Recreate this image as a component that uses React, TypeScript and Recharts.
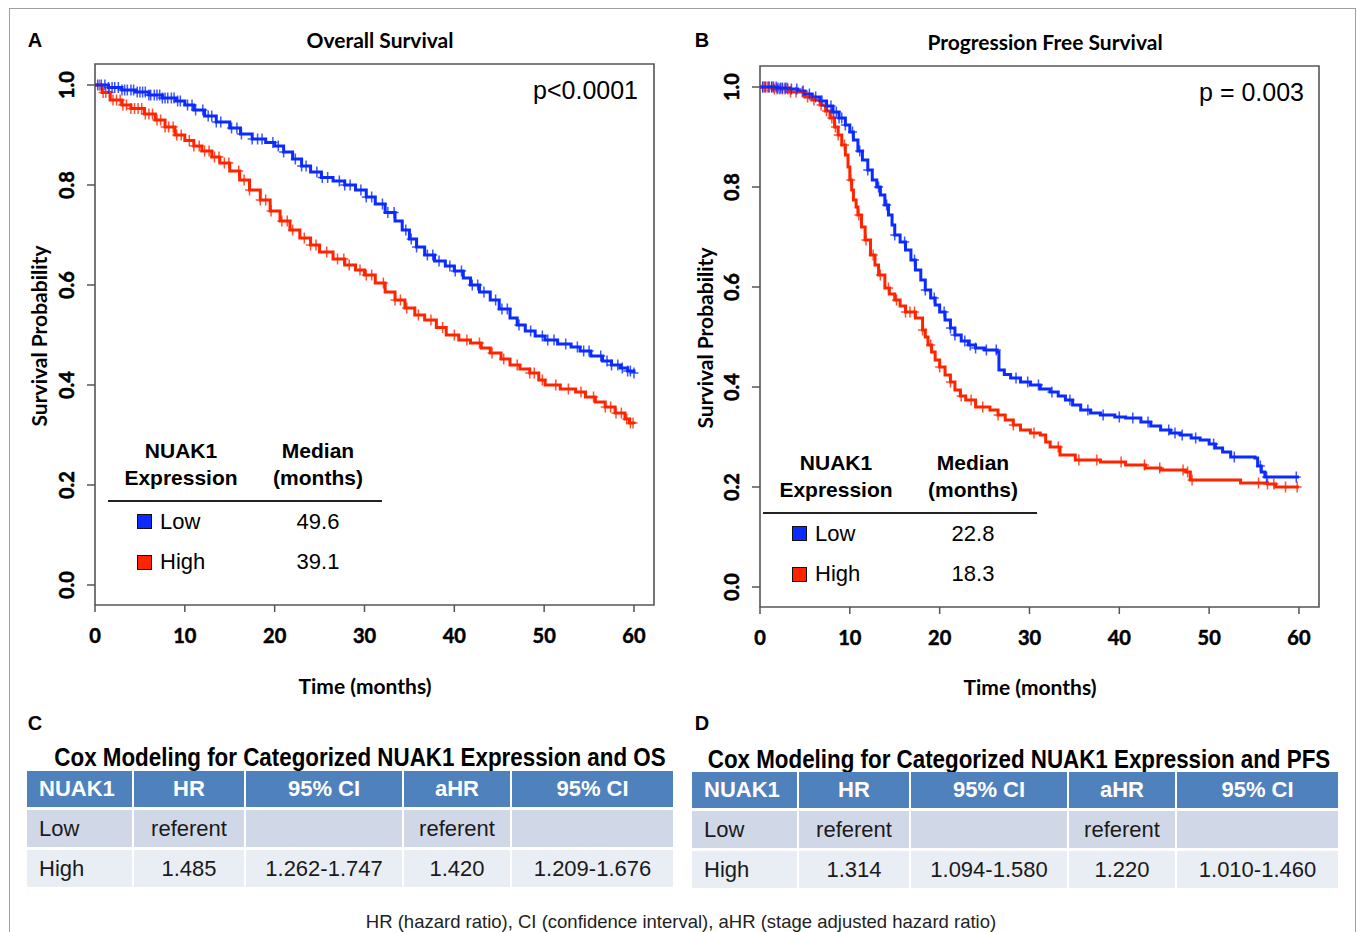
import React from 'react';
import { ComposedChart, Line, XAxis, YAxis, ReferenceArea } from 'recharts';

// Overall survival, NUAK1 low
const osLowTime = [0, 1.5, 3, 4.5, 6, 7.5, 9, 10, 11, 12.2, 13.5, 15, 16.2, 17.5, 19, 20, 21, 22, 23, 24, 25.2, 26.5, 27.8, 29, 30.2, 31.2, 32.3, 33.4, 34.2, 35, 35.8, 36.7, 37.8, 39, 40, 41, 41.8, 42.8, 44, 45, 46.2, 47, 47.9, 49, 50.1, 51.5, 53, 54, 55.2, 56.5, 57.5, 58.5, 59.3, 60];
const osLowSurv = [1, 0.995, 0.99, 0.986, 0.98, 0.974, 0.968, 0.96, 0.95, 0.938, 0.926, 0.914, 0.902, 0.892, 0.885, 0.878, 0.866, 0.852, 0.838, 0.826, 0.815, 0.808, 0.8, 0.79, 0.776, 0.762, 0.745, 0.728, 0.71, 0.692, 0.676, 0.66, 0.648, 0.638, 0.628, 0.614, 0.6, 0.586, 0.57, 0.552, 0.534, 0.52, 0.508, 0.498, 0.49, 0.482, 0.476, 0.468, 0.458, 0.448, 0.44, 0.434, 0.428, 0.424];
const osLowCensor = [0.3, 0.7, 1.1, 1.5, 1.9, 2.2, 2.6, 3, 3.3, 3.6, 4, 4.3, 4.7, 5, 5.3, 5.6, 6, 6.2, 6.6, 6.9, 7.2, 7.5, 7.8, 8.1, 8.5, 8.8, 9.2, 9.5, 10.3, 10.8, 11.2, 12, 12.6, 13, 13.5, 14, 15.2, 15.8, 16.3, 17.5, 18.1, 18.6, 19.8, 20.4, 21, 22.3, 23, 23.5, 24.7, 25.3, 25.9, 27.2, 27.8, 28.4, 29.6, 30.2, 30.8, 32, 32.6, 33.3, 34.6, 35.2, 35.8, 37, 37.6, 38.3, 39.5, 40.1, 40.8, 42, 42.6, 43.3, 44.6, 45.3, 45.9, 47.2, 48.5, 49.8, 50.4, 51.1, 52.4, 53.7, 54.4, 55, 56.3, 57, 57.5, 58.2, 58.7, 59.3, 59.6, 60];

// Overall survival, NUAK1 high
const osHighTime = [0, 0.8, 1.7, 3, 4, 5.5, 6.7, 7.8, 8.9, 10, 11, 11.9, 13, 13.9, 15, 16.1, 17.2, 18.4, 19.5, 20.6, 21.7, 22.8, 24, 25, 26.5, 27.8, 29, 30, 31.2, 32.3, 33.4, 34.5, 35.6, 36.7, 38, 39.1, 40.5, 41.8, 43, 44, 45.2, 46.2, 47.3, 48.4, 49.4, 50.1, 51.8, 53.5, 54.6, 55.7, 56.8, 57.9, 59, 59.5, 60];
const osHighSurv = [1, 0.985, 0.97, 0.96, 0.953, 0.942, 0.93, 0.916, 0.9, 0.889, 0.878, 0.868, 0.856, 0.844, 0.828, 0.81, 0.79, 0.77, 0.748, 0.728, 0.71, 0.694, 0.68, 0.666, 0.652, 0.64, 0.63, 0.62, 0.604, 0.586, 0.57, 0.554, 0.54, 0.53, 0.515, 0.5, 0.49, 0.484, 0.474, 0.464, 0.452, 0.44, 0.432, 0.424, 0.41, 0.4, 0.392, 0.386, 0.376, 0.366, 0.356, 0.344, 0.332, 0.324, 0.322];
const osHighCensor = [0.5, 0.9, 1.2, 1.6, 2, 2.4, 2.8, 3.1, 3.5, 4, 4.4, 4.8, 5.2, 5.6, 6, 6.4, 6.9, 7.3, 7.8, 8.2, 8.7, 9.1, 9.6, 10.5, 11, 11.6, 12.2, 12.7, 13.3, 13.8, 14.4, 14.9, 16, 16.6, 17.2, 18.4, 19, 19.6, 20.8, 21.4, 22, 23.3, 24, 24.6, 25.8, 27, 27.7, 28.3, 29.5, 30.2, 30.8, 32.1, 33.4, 34, 34.7, 36, 37.4, 38.7, 40, 41.4, 42.8, 44.2, 45.5, 47, 48.4, 48.9, 49.8, 51.3, 52.7, 54.1, 55.5, 56.8, 57.4, 58, 58.6, 59.2, 59.6, 59.9];

// Progression free survival, NUAK1 low
const pfsLowTime = [0, 2, 3.3, 4.2, 5, 5.8, 6.7, 7.4, 8.1, 8.8, 9.5, 10, 10.4, 10.9, 11.4, 12, 12.5, 13, 13.4, 13.9, 14.3, 14.7, 15, 15.6, 16.2, 16.8, 17.3, 17.9, 18.4, 19, 19.5, 20, 20.6, 21.2, 21.7, 22.4, 23.2, 24, 25, 26.4, 26.6, 27.2, 27.9, 29, 30.1, 31.2, 32.3, 33.2, 34, 34.8, 35.7, 36.8, 37.9, 39.5, 40.7, 42.4, 43.5, 44.6, 45.7, 46.8, 48, 49, 50, 50.7, 51.5, 52.4, 55.1, 55.4, 55.8, 56.2, 60];
const pfsLowSurv = [1, 0.998, 0.996, 0.992, 0.986, 0.98, 0.972, 0.962, 0.95, 0.938, 0.924, 0.91, 0.894, 0.872, 0.854, 0.834, 0.814, 0.8, 0.784, 0.764, 0.744, 0.724, 0.704, 0.69, 0.674, 0.654, 0.634, 0.614, 0.594, 0.578, 0.564, 0.55, 0.534, 0.518, 0.504, 0.492, 0.484, 0.478, 0.474, 0.47, 0.434, 0.425, 0.418, 0.41, 0.404, 0.396, 0.39, 0.382, 0.374, 0.364, 0.354, 0.348, 0.344, 0.34, 0.338, 0.33, 0.322, 0.314, 0.308, 0.304, 0.298, 0.294, 0.286, 0.278, 0.27, 0.26, 0.258, 0.242, 0.23, 0.22, 0.22];
const pfsLowCensor = [0.3, 0.6, 1, 1.3, 1.5, 1.8, 2, 2.3, 2.5, 2.8, 3, 3.5, 4.1, 4.8, 5.5, 6.2, 6.9, 7.5, 7.9, 8.2, 8.5, 8.8, 9.1, 9.5, 10.3, 11.1, 12, 13.2, 14.1, 15, 16.1, 17.2, 18.4, 19.4, 20.5, 21.2, 21.7, 22.8, 23.4, 24, 25.2, 26.3, 28.5, 29.8, 31, 32.5, 34.5, 36.5, 38.2, 40, 41.5, 43.2, 45.5, 46.2, 47, 48.5, 50.5, 52.8, 55.7, 56.4, 59.7];

// Progression free survival, NUAK1 high
const pfsHighTime = [0, 1.5, 3.3, 5, 5.8, 6.7, 7.3, 7.8, 8.3, 8.7, 9.1, 9.5, 9.8, 10, 10.2, 10.4, 10.7, 10.9, 11.3, 11.7, 12.3, 12.8, 13.2, 13.9, 14.4, 15, 15.6, 16.2, 17.3, 18.1, 18.4, 18.7, 19.1, 19.5, 20, 20.6, 21.2, 21.7, 22.3, 22.9, 24, 25.6, 26.5, 27.3, 28.2, 29, 30.1, 31.2, 31.8, 32.3, 33.4, 35.1, 37.9, 40.7, 42.9, 44.6, 47.4, 47.9, 50.7, 53.5, 56.5, 57.4, 60];
const pfsHighSurv = [1, 0.996, 0.99, 0.98, 0.974, 0.964, 0.952, 0.938, 0.92, 0.904, 0.884, 0.864, 0.84, 0.814, 0.794, 0.774, 0.76, 0.744, 0.72, 0.694, 0.664, 0.644, 0.624, 0.598, 0.586, 0.574, 0.562, 0.55, 0.538, 0.514, 0.5, 0.484, 0.47, 0.454, 0.44, 0.424, 0.41, 0.394, 0.382, 0.374, 0.36, 0.354, 0.344, 0.334, 0.324, 0.314, 0.308, 0.304, 0.29, 0.28, 0.264, 0.254, 0.25, 0.244, 0.238, 0.234, 0.23, 0.214, 0.214, 0.208, 0.206, 0.2, 0.2];
const pfsHighCensor = [0.3, 0.5, 0.8, 1, 1.3, 1.6, 1.9, 2.2, 2.5, 2.8, 3.1, 3.4, 4, 4.7, 5.3, 6, 6.8, 7.4, 8, 8.4, 8.7, 9.4, 10.1, 11, 11.8, 12.6, 13.4, 14.3, 15.2, 16.2, 16.7, 17.2, 18.1, 19, 20, 21.2, 22.4, 23.5, 24.8, 26.5, 28.2, 30.5, 33.2, 35.5, 37.5, 40.2, 42.8, 44.5, 47.1, 47.6, 48.1, 55.5, 56.5, 57.2, 58.5, 59.8];

const xTicks = [0, 10, 20, 30, 40, 50, 60];
const yTicks = [0, 0.2, 0.4, 0.6, 0.8, 1.0];

const groups = ['Low', 'High'];
const osMedians = ['49.6', '39.1'];
const pfsMedians = ['22.8', '18.3'];

const tableHeader = ['NUAK1', 'HR', '95% CI', 'aHR', '95% CI'];
const osRows = [
  ['Low', 'referent', '', 'referent', ''],
  ['High', '1.485', '1.262-1.747', '1.420', '1.209-1.676'],
];
const pfsRows = [
  ['Low', 'referent', '', 'referent', ''],
  ['High', '1.314', '1.094-1.580', '1.220', '1.010-1.460'],
];

const BLUE = '#0b2bff';
const RED = '#ff2400';
const AXIS = '#555';
const CAL = 'Lato, "Open Sans", sans-serif';
const ARIAL = '"Liberation Sans", Arial, sans-serif';
const X_MAX = 62.23;
const Y_MIN = -0.04;
const Y_MAX = 1.042;

function curve(times: number[], surv: number[]) {
  return times.map((t, i) => ({ t, s: surv[i] }));
}

// censor marks sit on the step curve at their time
function censored(times: number[], surv: number[], marks: number[]) {
  return marks.map((c) => {
    let s = surv[0];
    for (let i = 0; i < times.length; i++) if (times[i] <= c) s = surv[i];
    return { t: c, s };
  });
}

function plusDot(color: string) {
  return (p: any) => {
    const { cx, cy, index } = p;
    if (cx == null || cy == null) return <g key={index} />;
    return (
      <g key={index} stroke={color} strokeWidth={1.5} opacity={0.8}>
        <line x1={cx} x2={cx} y1={cy - 5.5} y2={cy + 5.5} />
        <line x1={cx - 4.5} x2={cx + 4.5} y1={cy} y2={cy} />
      </g>
    );
  };
}

function XTick({ x, y, payload }: any) {
  return (
    <text x={x} y={y + 29} textAnchor="middle" fontFamily={CAL} fontWeight={700} fontSize={20}
      fill="#000" stroke="#000" strokeWidth={0.5}>
      {payload.value}
    </text>
  );
}

function YTick({ x, y, payload }: any) {
  const bx = x - 11;
  return (
    <text x={bx} y={y} transform={`rotate(-90 ${bx} ${y})`} textAnchor="middle" fontFamily={CAL} fontWeight={700}
      fontSize={20} fill="#000" stroke="#000" strokeWidth={0.5}>
      {Number(payload.value).toFixed(1)}
    </text>
  );
}

function KMChart({ low, high, lowMarks, highMarks, marginTop }: any) {
  return (
    <ComposedChart width={644} height={marginTop + 541 + 50} margin={{ top: marginTop, right: 10, bottom: 0, left: 0 }}>
      <XAxis type="number" dataKey="t" domain={[0, X_MAX]} ticks={xTicks} allowDataOverflow height={50}
        tickSize={7} axisLine={false} tickLine={{ stroke: AXIS, strokeWidth: 1.5 }} tick={<XTick />} />
      <YAxis type="number" dataKey="s" domain={[Y_MIN, Y_MAX]} ticks={yTicks} allowDataOverflow width={75}
        tickSize={8} axisLine={false} tickLine={{ stroke: AXIS, strokeWidth: 1.5 }} tick={<YTick />} />
      <ReferenceArea x1={0} x2={X_MAX} y1={Y_MIN} y2={Y_MAX} fill="none" stroke={AXIS} strokeWidth={1.6} strokeOpacity={1} ifOverflow="visible" />
      <Line data={high} dataKey="s" type="stepAfter" stroke={RED} strokeWidth={3} dot={false} isAnimationActive={false} />
      <Line data={low} dataKey="s" type="stepAfter" stroke={BLUE} strokeWidth={3} dot={false} isAnimationActive={false} />
      <Line data={highMarks} dataKey="s" stroke="none" strokeWidth={0} dot={plusDot(RED)} activeDot={false} isAnimationActive={false} />
      <Line data={lowMarks} dataKey="s" stroke="none" strokeWidth={0} dot={plusDot(BLUE)} activeDot={false} isAnimationActive={false} />
    </ComposedChart>
  );
}

function Txt({ x, y, children, size = 20, weight = 400, family = ARIAL, anchor = 'middle', rotate = false, color = '#000', sx = 1 }: any) {
  const tx = anchor === 'middle' ? '-50%' : anchor === 'end' ? '-100%' : '0';
  const origin = anchor === 'middle' ? 'center' : anchor === 'end' ? 'right center' : 'left center';
  return (
    <div style={{
      position: 'absolute', left: x, top: y,
      transform: `translate(${tx}, -50%)${rotate ? ' rotate(-90deg)' : ''}${sx !== 1 ? ` scaleX(${sx})` : ''}`,
      transformOrigin: origin,
      fontSize: size, fontWeight: weight, fontFamily: family, color, whiteSpace: 'nowrap', lineHeight: 1,
    }}>
      {children}
    </div>
  );
}

function MedianLegend({ x, y, medians }: any) {
  // x, y: left end of the rule under the header
  return (
    <>
      <Txt x={x + 73} y={y - 51} size={21} weight={700}>NUAK1</Txt>
      <Txt x={x + 73} y={y - 24} size={21} weight={700}>Expression</Txt>
      <Txt x={x + 210} y={y - 51} size={21} weight={700}>Median</Txt>
      <Txt x={x + 210} y={y - 24} size={21} weight={700}>(months)</Txt>
      <div style={{ position: 'absolute', left: x, top: y - 1, width: 274, height: 2, background: '#222' }} />
      {groups.map((g, i) => (
        <React.Fragment key={g}>
          <div style={{
            position: 'absolute', left: x + 29, top: y + 13 + i * 41, width: 13, height: 13,
            background: i === 0 ? BLUE : RED, border: '1px solid #111',
          }} />
          <Txt x={x + 52} y={y + 21 + i * 40} size={22} anchor="start">{g}</Txt>
          <Txt x={x + 210} y={y + 21 + i * 40} size={22}>{medians[i]}</Txt>
        </React.Fragment>
      ))}
    </>
  );
}

const colWidths = [105, 110, 156, 106, 161];

function CoxTable({ x, y, rows }: any) {
  const cell = (txt: string, j: number, bg: string, header: boolean) => (
    <div key={j} style={{
      background: bg, display: 'flex', alignItems: 'center',
      justifyContent: j === 0 ? 'flex-start' : 'center', paddingLeft: j === 0 ? 12 : 0,
      color: header ? '#fff' : '#1a1a1a', fontWeight: header ? 700 : 400,
      fontFamily: ARIAL, fontSize: 22, whiteSpace: 'nowrap',
    }}>{txt}</div>
  );
  return (
    <div style={{
      position: 'absolute', left: x, top: y, display: 'grid',
      gridTemplateColumns: colWidths.map((w) => `${w}px`).join(' '),
      gridTemplateRows: '36px 37px 37px', columnGap: 2, rowGap: 3,
    }}>
      {tableHeader.map((h, j) => cell(h, j, '#4f81bd', true))}
      {rows[0].map((v: string, j: number) => cell(v, j, '#d0d8e8', false))}
      {rows[1].map((v: string, j: number) => cell(v, j, '#e9edf4', false))}
    </div>
  );
}

export default function App() {
  const osLow = curve(osLowTime, osLowSurv);
  const osHigh = curve(osHighTime, osHighSurv);
  const pfsLow = curve(pfsLowTime, pfsLowSurv);
  const pfsHigh = curve(pfsHighTime, pfsHighSurv);
  return (
    <div style={{ position: 'absolute', left: 0, top: 0, width: 1357, height: 932, overflow: 'hidden', background: '#fff' }}>
      <div style={{ position: 'absolute', left: 9, top: 8, width: 1345, height: 1000, border: '1px solid #a0a0a0' }} />

      <div style={{ position: 'absolute', left: 20, top: 40 }}>
        <KMChart low={osLow} high={osHigh} lowMarks={censored(osLowTime, osLowSurv, osLowCensor)}
          highMarks={censored(osHighTime, osHighSurv, osHighCensor)} marginTop={24} />
      </div>
      <div style={{ position: 'absolute', left: 685, top: 40 }}>
        <KMChart low={pfsLow} high={pfsHigh} lowMarks={censored(pfsLowTime, pfsLowSurv, pfsLowCensor)}
          highMarks={censored(pfsHighTime, pfsHighSurv, pfsHighCensor)} marginTop={26} />
      </div>

      <Txt x={35} y={40} size={20} weight={700}>A</Txt>
      <Txt x={702} y={40} size={20} weight={700}>B</Txt>
      <Txt x={380} y={39} size={21} weight={700} family={CAL}>Overall Survival</Txt>
      <Txt x={1045} y={41} size={21} weight={700} family={CAL}>Progression Free Survival</Txt>
      <Txt x={38} y={336} size={21} weight={700} family={CAL} rotate>Survival Probability</Txt>
      <Txt x={704} y={338} size={21} weight={700} family={CAL} rotate>Survival Probability</Txt>
      <Txt x={365} y={685} size={21} weight={700} family={CAL}>Time (months)</Txt>
      <Txt x={1030} y={686} size={21} weight={700} family={CAL}>Time (months)</Txt>
      <Txt x={638} y={90} size={25} anchor="end">p&lt;0.0001</Txt>
      <Txt x={1304} y={92} size={25} anchor="end">p = 0.003</Txt>

      <MedianLegend x={108} y={501} medians={osMedians} />
      <MedianLegend x={763} y={513} medians={pfsMedians} />

      <Txt x={35} y={723} size={20} weight={700}>C</Txt>
      <Txt x={702} y={723} size={20} weight={700}>D</Txt>
      <Txt x={360} y={757} size={26} weight={700} sx={0.86}>Cox Modeling for Categorized NUAK1 Expression and OS</Txt>
      <Txt x={1019} y={759} size={26} weight={700} sx={0.86}>Cox Modeling for Categorized NUAK1 Expression and PFS</Txt>
      <CoxTable x={27} y={771} rows={osRows} />
      <CoxTable x={692} y={772} rows={pfsRows} />
      <Txt x={681} y={922} size={18.5} color="#222">HR (hazard ratio), CI (confidence interval), aHR (stage adjusted hazard ratio)</Txt>
    </div>
  );
}
